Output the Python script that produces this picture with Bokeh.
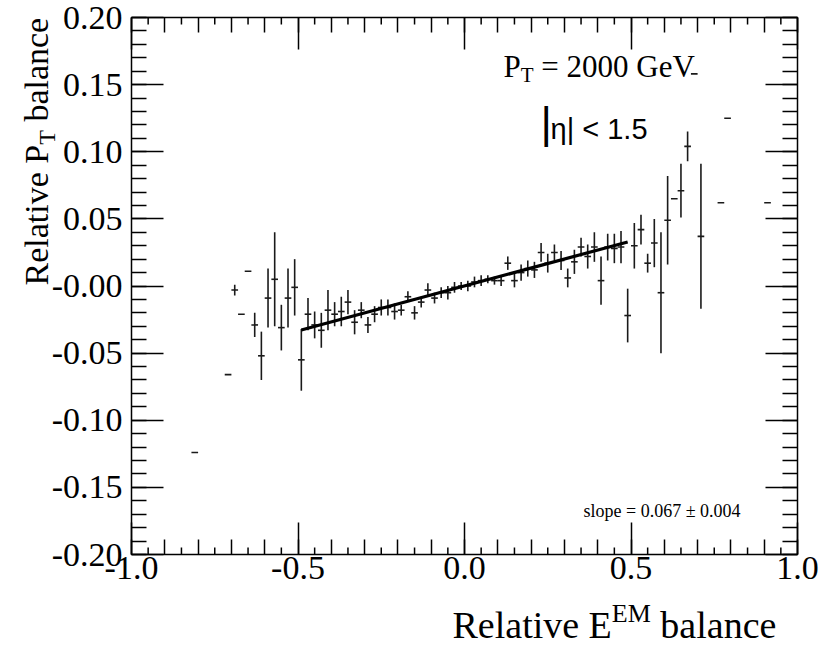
import math
import numpy as np
from bokeh.plotting import figure
from bokeh.models import (ColumnDataSource, Range1d, LinearAxis, FixedTicker,
                          CustomJSTickFormatter, Label)
from bokeh.embed import file_html
from bokeh.resources import INLINE

# ---------------- data ----------------
x_bins = [-0.81, -0.71, -0.69, -0.67, -0.65, -0.63, -0.61, -0.59, -0.57, -0.55,
          -0.53, -0.51, -0.49, -0.47, -0.45, -0.43, -0.41, -0.39, -0.37, -0.35,
          -0.33, -0.31, -0.29, -0.27, -0.25, -0.23, -0.21, -0.19, -0.17, -0.15,
          -0.13, -0.11, -0.09, -0.07, -0.05, -0.03, -0.01, 0.01, 0.03, 0.05,
          0.07, 0.09, 0.11, 0.13, 0.15, 0.17, 0.19, 0.21, 0.23, 0.25,
          0.27, 0.29, 0.31, 0.33, 0.35, 0.37, 0.39, 0.41, 0.43, 0.45,
          0.47, 0.49, 0.51, 0.53, 0.55, 0.57, 0.59, 0.61, 0.63, 0.65,
          0.67, 0.69, 0.71, 0.77, 0.79, 0.91]
pt_balance = [-0.124, -0.066, -0.003, -0.021, 0.011, -0.029, -0.052, -0.009, 0.005, -0.031,
              -0.009, -0.001, -0.055, -0.021, -0.029, -0.033, -0.018, -0.021, -0.019, -0.012,
              -0.027, -0.018, -0.029, -0.021, -0.016, -0.016, -0.019, -0.018, -0.008, -0.020,
              -0.012, -0.003, -0.009, -0.005, -0.005, -0.001, 0.000, 0.000, 0.003, 0.004,
              0.005, 0.004, 0.004, 0.017, 0.004, 0.010, 0.013, 0.012, 0.025, 0.017,
              0.025, 0.019, 0.006, 0.018, 0.029, 0.022, 0.029, 0.004, 0.029, 0.028,
              0.029, -0.022, 0.030, 0.042, 0.017, 0.032, -0.005, 0.049, 0.065, 0.071,
              0.104, 0.158, 0.037, 0.062, 0.125, 0.062]
pt_error = [0.0, 0.0, 0.004, 0.0, 0.0, 0.009, 0.018, 0.022, 0.035, 0.017,
            0.022, 0.021, 0.023, 0.012, 0.010, 0.013, 0.015, 0.009, 0.011, 0.009,
            0.009, 0.006, 0.006, 0.006, 0.006, 0.006, 0.006, 0.004, 0.004, 0.005,
            0.004, 0.005, 0.004, 0.004, 0.005, 0.004, 0.003, 0.004, 0.004, 0.004,
            0.003, 0.003, 0.004, 0.005, 0.005, 0.006, 0.006, 0.006, 0.007, 0.007,
            0.006, 0.007, 0.007, 0.009, 0.007, 0.009, 0.011, 0.018, 0.010, 0.011,
            0.012, 0.020, 0.017, 0.011, 0.007, 0.018, 0.045, 0.033, 0.0, 0.020,
            0.011, 0.0, 0.054, 0.0, 0.0, 0.0]
bin_half_width = 0.01

fit_slope = 0.067
fit_intercept = 0.0
fit_range = [-0.49, 0.49]

x_ticks = [-1.0, -0.5, 0.0, 0.5, 1.0]
x_tick_labels = ["-1.0", "-0.5", "0.0", "0.5", "1.0"]
y_ticks = [-0.20, -0.15, -0.10, -0.05, 0.0, 0.05, 0.10, 0.15, 0.20]
y_tick_labels = ["-0.20", "-0.15", "-0.10", "-0.05", "-0.00", "0.05", "0.10", "0.15", "0.20"]

# ---------------- layout ----------------
W, H = 835, 655
BL, BR, BT, BB = 131, 38, 17, 101        # box edges in canvas pixels
FW, FH = W - BL - BR, H - BT - BB
X0, X1, Y0, Y1 = -1.0, 1.0, -0.2, 0.2    # plotted box
PXU = FW / (X1 - X0)
PYU = FH / (Y1 - Y0)

# the drawing area covers the whole canvas so that titles outside the box are not clipped
p = figure(width=W, height=H,
           x_range=Range1d(X0 - BL / PXU, X1 + BR / PXU),
           y_range=Range1d(Y0 - BB / PYU, Y1 + BT / PYU),
           output_backend="svg", toolbar_location=None,
           min_border=0, min_border_left=0, min_border_right=0,
           min_border_top=0, min_border_bottom=0,
           x_axis_location=None, y_axis_location=None)
p.grid.visible = False
p.outline_line_color = None
p.background_fill_color = "white"
p.border_fill_color = "white"

SERIF = "Liberation Serif"
SANS = "Liberation Sans"

x_minor = [round(v, 2) for v in np.arange(-1.0, 1.0001, 0.1)]
y_minor = [round(v, 2) for v in np.arange(-0.2, 0.2001, 0.01)]

fmt_x = CustomJSTickFormatter(args=dict(vals=x_ticks, labs=x_tick_labels), code="""
for (let i = 0; i < vals.length; i++) { if (Math.abs(tick - vals[i]) < 1e-9) return labs[i]; }
return "";""")
fmt_y = CustomJSTickFormatter(args=dict(vals=y_ticks, labs=y_tick_labels), code="""
for (let i = 0; i < vals.length; i++) { if (Math.abs(tick - vals[i]) < 1e-9) return labs[i]; }
return "";""")
fmt_none = CustomJSTickFormatter(code="return '';")


def make_axis(ticks, minor, fmt, loc, bounds, labels):
    ax = LinearAxis(ticker=FixedTicker(ticks=ticks, minor_ticks=minor), formatter=fmt,
                    fixed_location=loc, bounds=bounds)
    ax.major_tick_in = 32
    ax.major_tick_out = 0
    ax.minor_tick_in = 15
    ax.minor_tick_out = 0
    ax.axis_line_color = "black"
    ax.axis_line_width = 1.5
    ax.major_tick_line_color = "black"
    ax.minor_tick_line_color = "black"
    ax.major_tick_line_width = 1.5
    ax.minor_tick_line_width = 1.5
    ax.major_label_text_font = SERIF
    ax.major_label_text_color = "black"
    if labels:
        ax.major_label_text_font_size = "34px"
    else:
        ax.major_label_text_font_size = "1px"
        ax.major_label_standoff = 0
    return ax


ax_b = make_axis(x_ticks, x_minor, fmt_x, Y0, (X0, X1), True)
ax_b.major_label_standoff = 2
ax_t = make_axis(x_ticks, x_minor, fmt_none, Y1, (X0, X1), False)
ax_l = make_axis(y_ticks, y_minor, fmt_y, X0, (Y0, Y1), True)
ax_l.major_label_standoff = 9
ax_r = make_axis(y_ticks, y_minor, fmt_none, X1, (Y0, Y1), False)
p.add_layout(ax_b, "below")
p.add_layout(ax_t, "above")
p.add_layout(ax_l, "left")
p.add_layout(ax_r, "right")

# tertiary x ticks every 0.05 (short)
tert = [round(v, 3) for v in np.arange(-0.95, 0.951, 0.1)]
short = 7 / PYU
p.segment(x0=tert, y0=[Y0] * len(tert), x1=tert, y1=[Y0 + short] * len(tert),
          line_color="black", line_width=1.5)
p.segment(x0=tert, y0=[Y1] * len(tert), x1=tert, y1=[Y1 - short] * len(tert),
          line_color="black", line_width=1.5)

# ---------------- data marks ----------------
xb = np.array(x_bins)
yv = np.array(pt_balance)
ye = np.array(pt_error)
src = ColumnDataSource(dict(x=xb, y=yv, xl=xb - bin_half_width, xr=xb + bin_half_width,
                            yl=yv - ye, yh=yv + ye))
p.segment(x0="xl", y0="y", x1="xr", y1="y", source=src, line_color="#1a1a1a", line_width=1.6)
p.segment(x0="x", y0="yl", x1="x", y1="yh", source=src, line_color="#1a1a1a", line_width=1.6)

fx = np.array(fit_range)
p.line(fx, fit_slope * fx + fit_intercept, line_color="black", line_width=3.2)

# ---------------- texts (canvas pixels, baseline given) ----------------
MID = 0.3375


def lab(px, py, text, size, font=SERIF, rotated=False):
    if rotated:
        x, y, ang = px - MID * size, py, math.pi / 2
    else:
        x, y, ang = px, py - MID * size, 0.0
    p.add_layout(Label(x=x, y=y, x_units="canvas", y_units="canvas", text=text, angle=ang,
                       text_font=font, text_font_size=f"{size}px", text_color="black",
                       text_align="left", text_baseline="middle"))


# y-axis title (rotated): "Relative P_T balance"
yb, ys = 47, 285
s1, s2 = 34, 24
lab(yb, ys, "Relative P", s1, rotated=True)
y_t = ys - 4.139 * s1
lab(yb + 8, y_t, "T", s2, rotated=True)
y_b = y_t - 0.611 * s2 - 0.25 * s1
lab(yb, y_b, "balance", s1, rotated=True)

# x-axis title: "Relative E^EM balance"
xs, xbl = 452, 637
t1, t2 = 38, 26
lab(xs, xbl, "Relative E", t1)
x_em = xs + 4.194 * t1
lab(x_em, xbl - 15, "EM", t2)
lab(x_em + 1.5 * t2 + 0.25 * t1, xbl, "balance", t1)

# P_T = 2000 GeV
f1, f2 = 31, 21
lab(503, 76, "P", f1)
lab(503 + 0.556 * f1, 82, "T", f2)
lab(503 + 0.556 * f1 + 0.611 * f2 + 0.25 * f1, 76, "= 2000 GeV", f1)

# |eta| < 1.5
lab(540, 137, "|", 44, font=SANS)
lab(550, 138, "\u03b7| < 1.5", 29, font=SANS)

# slope
lab(583, 517, "slope = 0.067 \u00b1 0.004", 18)

open("out.html", "w").write(file_html(p, INLINE))
